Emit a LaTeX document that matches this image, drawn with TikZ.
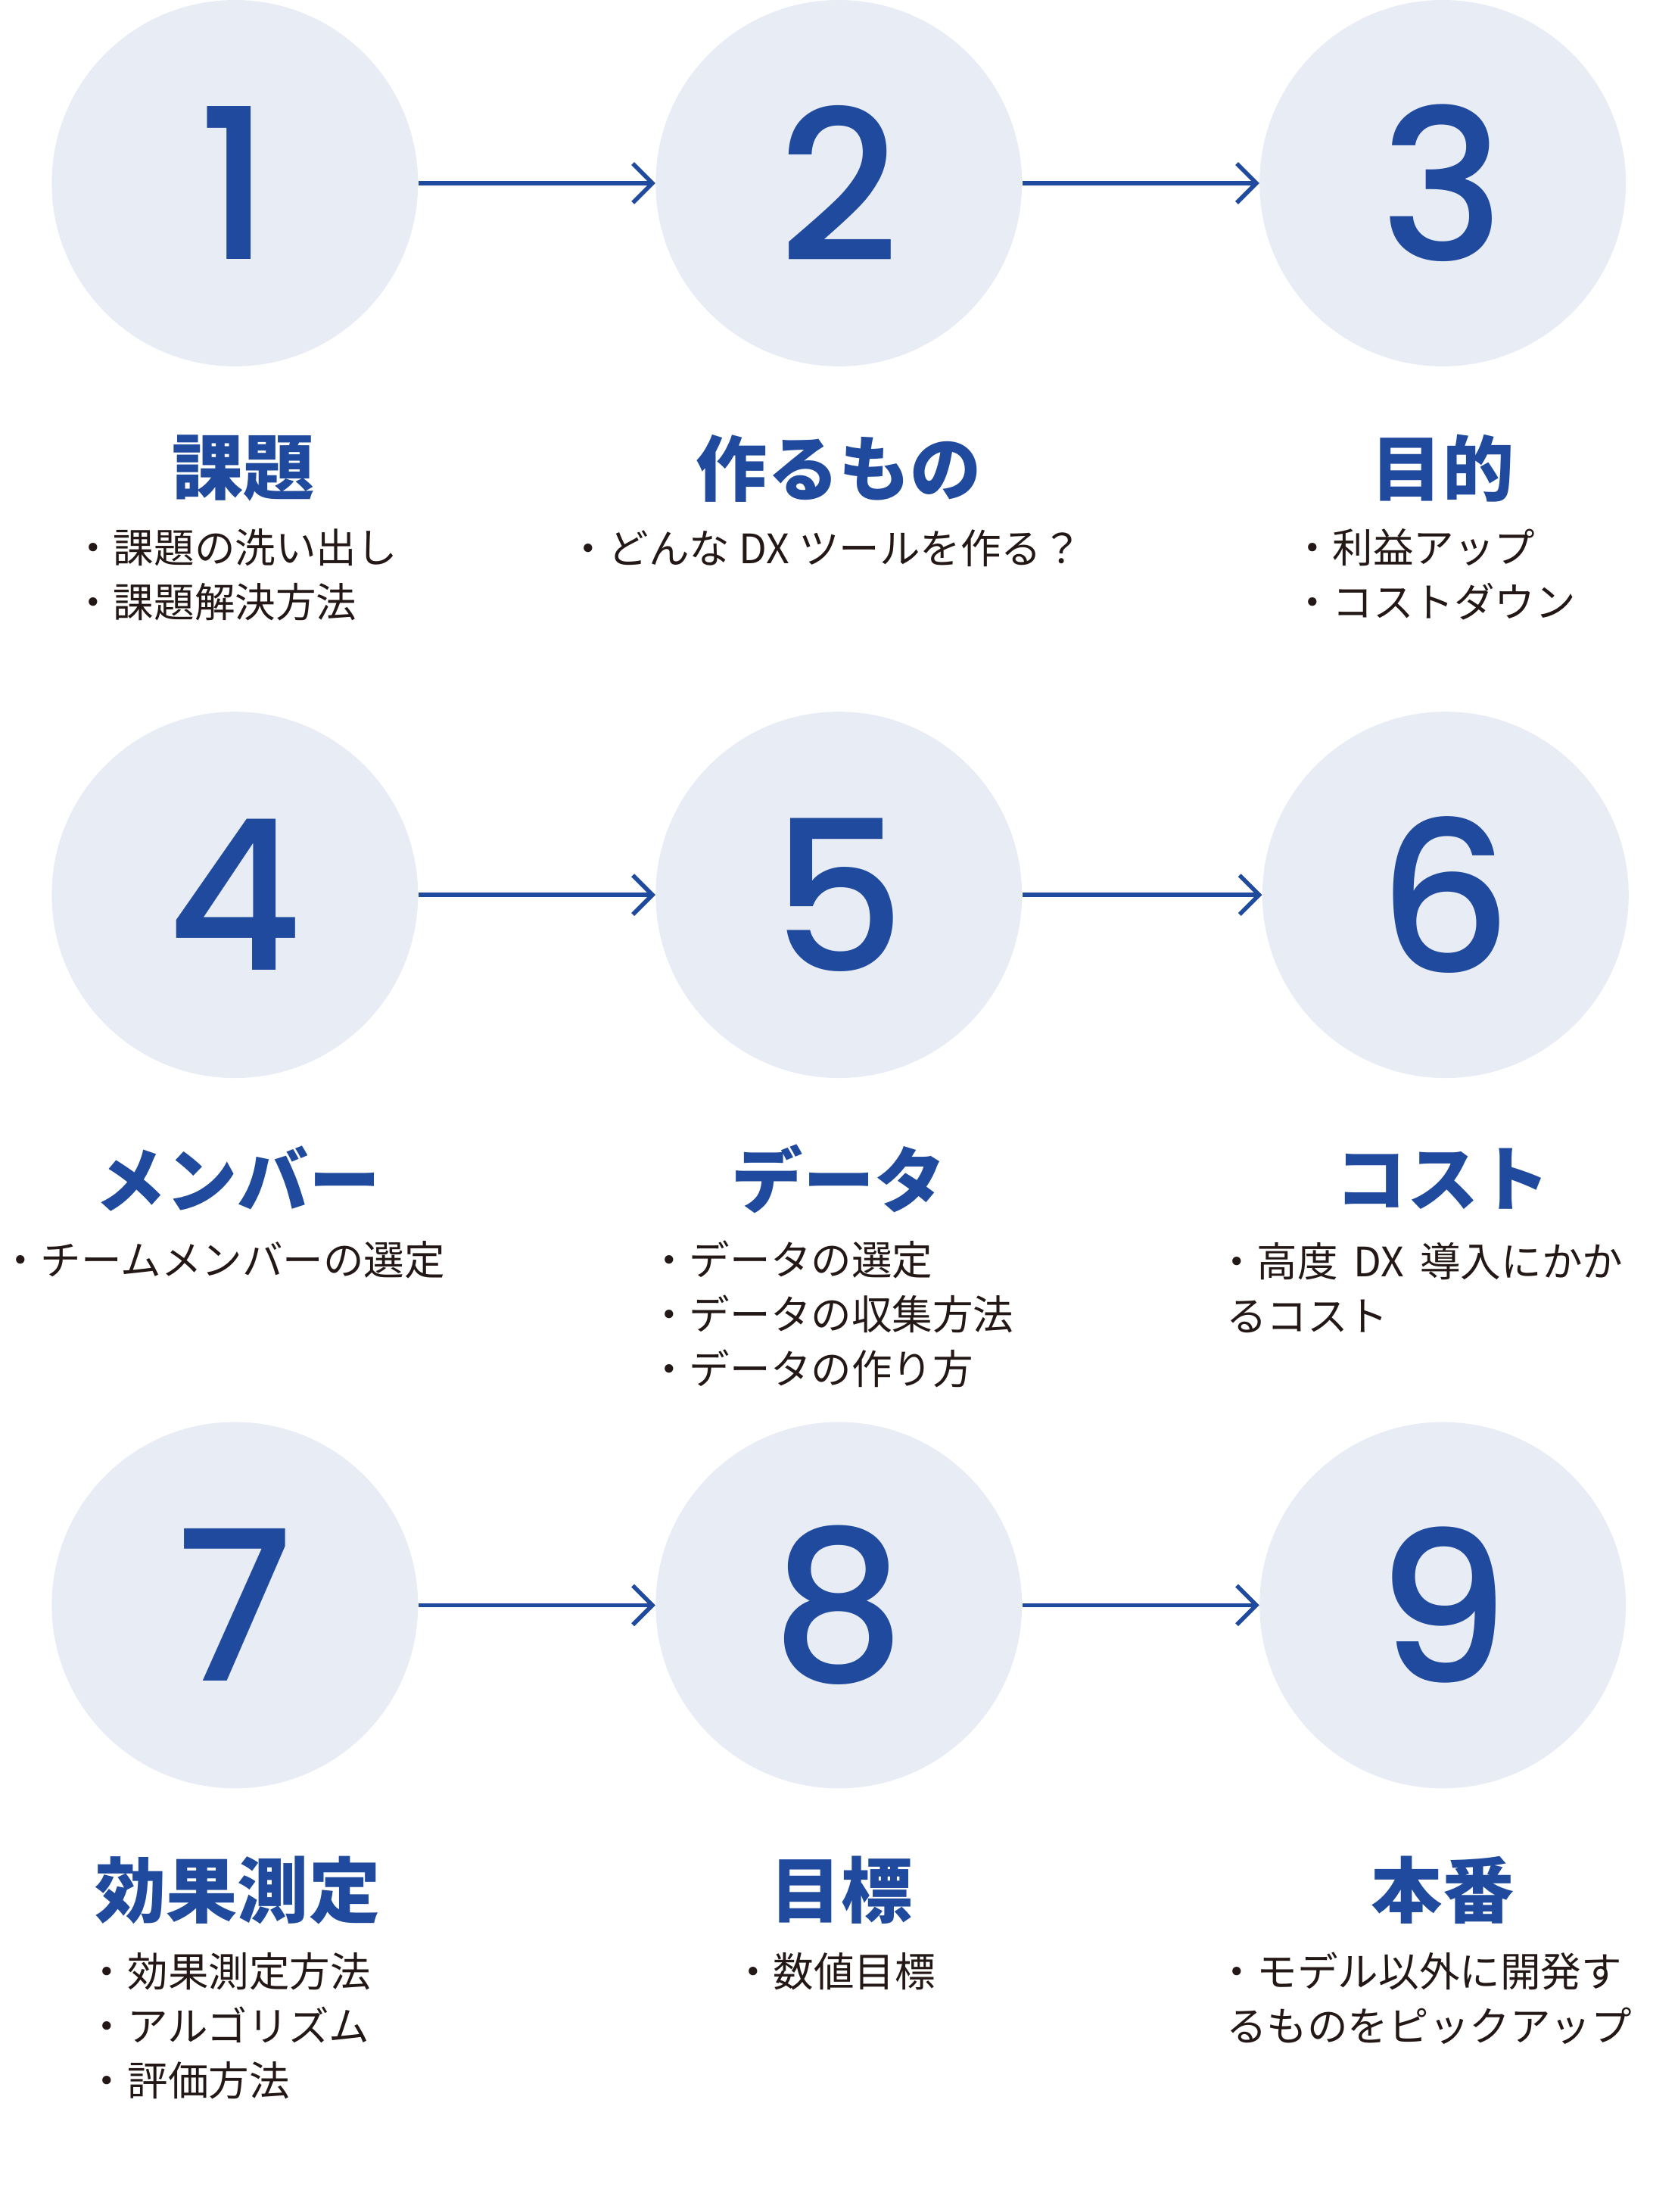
\documentclass[tikz,border=0pt]{standalone}
\usepackage{fontspec}
\usetikzlibrary{arrows.meta}
\newfontfamily\jp{Noto Sans CJK JP}
\newfontfamily\jpb{Noto Sans CJK JP Black}
\newfontfamily\numf{Poppins Medium}
\definecolor{navy}{HTML}{1F4A9E}
\definecolor{pale}{HTML}{E8ECF5}
\definecolor{ink}{HTML}{231815}
\begin{document}
\begin{tikzpicture}[x=1pt,y=-1pt,
  circ/.style={circle,fill=pale,minimum size=262pt,inner sep=0pt,text=navy,font=\fontsize{150}{150}\numf},
  ttl/.style={text=navy,font=\fontsize{51}{53}\jpb,inner sep=0pt},
  bul/.style={text=ink,font=\fontsize{29}{39}\jp,inner sep=0pt,anchor=west,align=left},
  arr/.style={draw=navy,line width=3pt,-{Straight Barb[length=14pt,width=28pt,line width=3pt]}}]
\useasboundingbox (0,0) rectangle (1200,1582);
\foreach \n/\x/\y in {1/168/131,2/600/131,3/1032/131,4/168/640,5/600/640,6/1034/640,7/168/1148,8/600/1148,9/1032/1148}
  \node[circ] (c\n) at (\x,\y) {\n};
\foreach \a/\b in {1/2,2/3,4/5,5/6,7/8,8/9}
  \draw[arr] (c\a.east) -- (c\b.west);
\node[ttl] (t1) at (174,335) {課題};
\node[ttl] (t2) at (600,335) {作るもの};
\node[ttl] (t3) at (1032,335) {目的};
\node[ttl] (t4) at (170,843) {メンバー};
\node[ttl] (t5) at (600,843) {データ};
\node[ttl] (t6) at (1032,843) {コスト};
\node[ttl] (t7) at (170,1352) {効果測定};
\node[ttl] (t8) at (602,1352) {目標};
\node[ttl] (t9) at (1032,1352) {本番};
\node[bul] (b1) at (52,411) {・課題の洗い出し\\・課題解決方法};
\node[bul] (b2) at (406,392) {・どんな DX ツールを作る？};
\node[bul] (b3) at (924,411) {・利益アップ\\・コストダウン};
\node[bul] (b4) at (0,901) {・チームメンバーの選定};
\node[bul] (b5) at (464,940) {・データの選定\\・データの収集方法\\・データの作り方};
\node[bul] (b6) at (870,921) {・高度\, DX\, 導入にかか\\\hspace*{7pt}るコスト};
\node[bul] (b7) at (62,1449) {・効果測定方法\\・アルゴリズム\\・評価方法};
\node[bul] (b8) at (524,1410) {・数値目標};
\node[bul] (b9) at (870,1429) {・モデル以外に開発す\\\hspace*{7pt}るものをピックアップ};
\end{tikzpicture}
\end{document}
